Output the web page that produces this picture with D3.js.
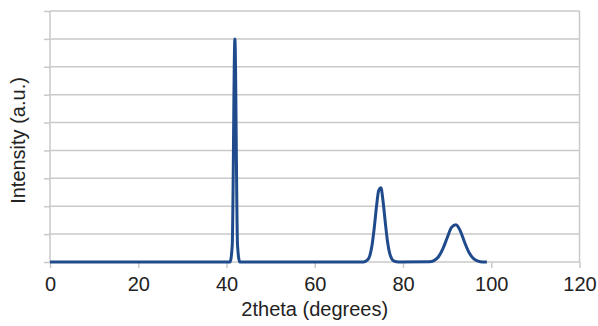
<!DOCTYPE html>
<html>
<head>
<meta charset="utf-8">
<script src="https://cdn.jsdelivr.net/npm/d3@7"></script>
<style>
  body { margin: 0; background: #fff; }
  text { font-family: "Liberation Sans", Arial, sans-serif; fill: #222; }
</style>
</head>
<body>
<svg id="viz"></svg>
<script>
// XRD pattern
const twoTheta = [0, 20, 40, 40.8, 41.3, 41.9, 42.5, 43, 60, 71, 72, 72.5, 73, 73.5, 74, 74.5, 75, 75.5, 76, 76.5, 77, 77.5, 78, 79,
  86, 87, 88, 89, 90, 91, 92, 93, 94, 95, 96, 97, 98, 99];
const intensity = [0, 0, 0, 0, 0.6, 8.0, 0.6, 0, 0, 0, 0.08, 0.24, 0.62, 1.25, 2.0, 2.57, 2.66, 2.15, 1.4, 0.72, 0.3, 0.1, 0.03, 0,
  0.01, 0.05, 0.18, 0.46, 0.86, 1.24, 1.34, 1.11, 0.69, 0.33, 0.12, 0.03, 0, 0];
const xTicks = [0, 20, 40, 60, 80, 100, 120];
const yTicks = [0, 1, 2, 3, 4, 5, 6, 7, 8, 9];

const width = 598, height = 326;
const margin = { top: 11, right: 18.5, bottom: 64, left: 50 };
const innerW = width - margin.left - margin.right;
const innerH = height - margin.top - margin.bottom;

const svg = d3.select("#viz").attr("width", width).attr("height", height);
const g = svg.append("g").attr("transform", `translate(${margin.left},${margin.top})`);

const x = d3.scaleLinear().domain([0, 120]).range([0, innerW]);
const y = d3.scaleLinear().domain([0, 9]).range([innerH, 0]);

const gridColor = "#c9c9c9";

// horizontal gridlines + left tick marks
g.append("g")
  .call(d3.axisLeft(y).tickValues(yTicks).tickSize(6).tickFormat(""))
  .call(a => a.select(".domain").remove())
  .call(a => a.selectAll("line").attr("stroke", gridColor).attr("stroke-width", 1.5));
g.append("g")
  .selectAll("line")
  .data(yTicks)
  .join("line")
  .attr("x1", 0).attr("x2", innerW)
  .attr("y1", d => y(d)).attr("y2", d => y(d))
  .attr("stroke", gridColor).attr("stroke-width", 1.5);

// left and right borders
g.append("line").attr("x1", 0).attr("x2", 0).attr("y1", 0).attr("y2", innerH)
  .attr("stroke", gridColor).attr("stroke-width", 1.5);
g.append("line").attr("x1", innerW).attr("x2", innerW).attr("y1", 0).attr("y2", innerH)
  .attr("stroke", gridColor).attr("stroke-width", 1.5);

// x axis
const xAxis = g.append("g")
  .attr("transform", `translate(0,${innerH})`)
  .call(d3.axisBottom(x).tickValues(xTicks).tickSize(6).tickPadding(9).tickFormat(d3.format("d")));
xAxis.select(".domain").remove();
xAxis.selectAll("line").attr("stroke", gridColor).attr("stroke-width", 1.5);
xAxis.selectAll("text").style("font-size", "20px").attr("fill", "#222");

// data line
const pts = twoTheta.map((t, i) => [t, intensity[i]]);
g.append("path")
  .datum(pts)
  .attr("fill", "none")
  .attr("stroke", "#1f4b8c")
  .attr("stroke-width", 3)
  .attr("stroke-linejoin", "round")
  .attr("d", d3.line().x(d => x(d[0])).y(d => y(d[1])).curve(d3.curveMonotoneX));

// axis titles
svg.append("text")
  .attr("x", margin.left + x(60))
  .attr("y", 316)
  .attr("text-anchor", "middle")
  .style("font-size", "20px")
  .text("2theta (degrees)");

svg.append("text")
  .attr("transform", `translate(25,${margin.top + innerH / 2 + 4}) rotate(-90)`)
  .attr("text-anchor", "middle")
  .style("font-size", "20px")
  .text("Intensity (a.u.)");
</script>
</body>
</html>
